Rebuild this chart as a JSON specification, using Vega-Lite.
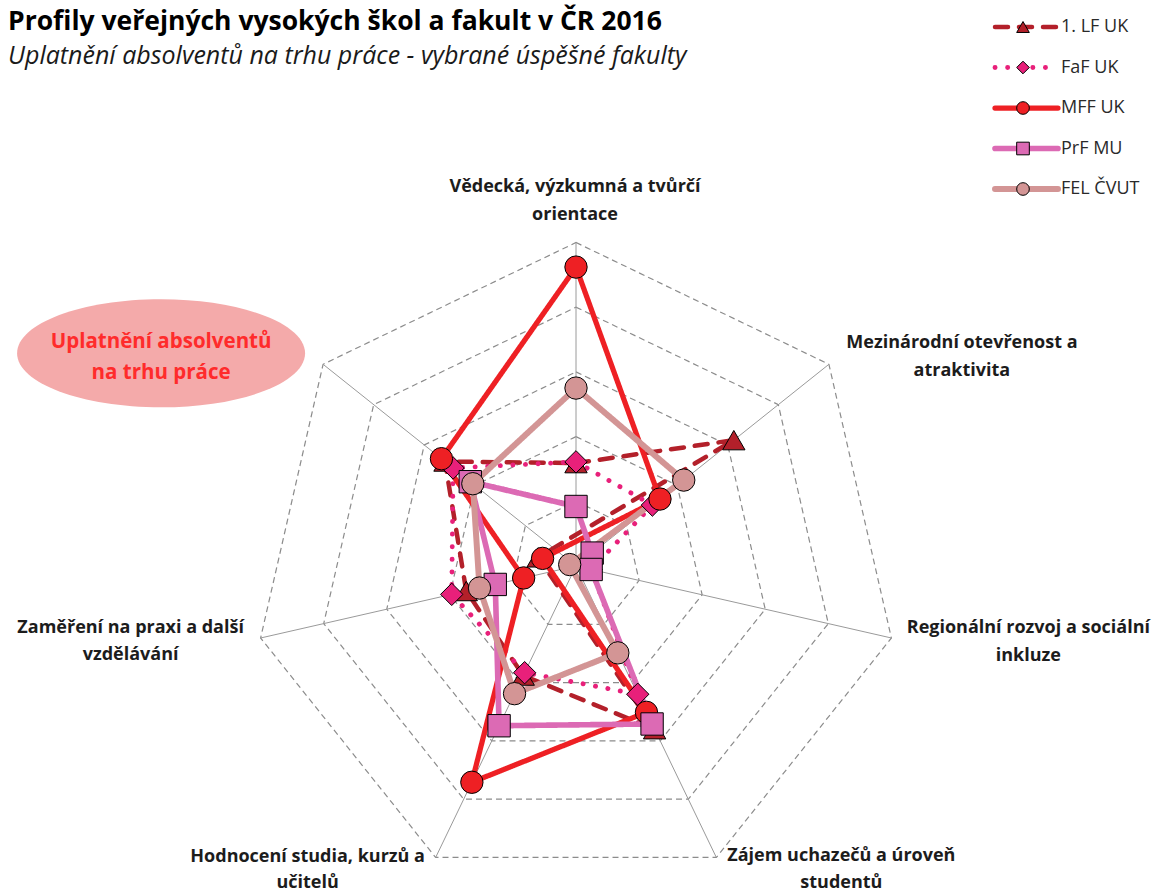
{
  "$schema": "https://vega.github.io/schema/vega-lite/v6.json",
  "width": 1161,
  "height": 818,
  "autosize": {"type": "none"},
  "padding": {"left": 0, "right": 0, "top": 75, "bottom": 0},
  "background": "white",
  "config": {"view": {"stroke": null}},
  "title": {
    "text": "Profily veřejných vysokých škol a fakult v ČR 2016",
    "subtitle": "Uplatnění absolventů na trhu práce - vybrané úspěšné fakulty",
    "anchor": "start", "frame": "group", "dx": 8, "offset": -52,
    "font": "Open Sans", "fontSize": 26.5, "fontWeight": "bold", "color": "#000000",
    "subtitleFont": "Open Sans", "subtitleFontSize": 25, "subtitleFontStyle": "italic",
    "subtitleColor": "#1a1a1a", "subtitlePadding": 9
  },
  "datasets": {
    "grid": [
      {"ring": 1, "k": [0, 1, 2, 3, 4, 5, 6]},
      {"ring": 2, "k": [0, 1, 2, 3, 4, 5, 6]},
      {"ring": 3, "k": [0, 1, 2, 3, 4, 5, 6]},
      {"ring": 4, "k": [0, 1, 2, 3, 4, 5, 6]},
      {"ring": 5, "k": [0, 1, 2, 3, 4, 5, 6]}
    ],
    "axes": [
      {"k": 0, "label": ["Vědecká, výzkumná a tvůrčí", "orientace"]},
      {"k": 1, "label": ["Mezinárodní otevřenost a", "atraktivita"]},
      {"k": 2, "label": ["Regionální rozvoj a sociální", "inkluze"]},
      {"k": 3, "label": ["Zájem uchazečů a úroveň", "studentů"]},
      {"k": 4, "label": ["Hodnocení studia, kurzů a", "učitelů"]},
      {"k": 5, "label": ["Zaměření na praxi a další", "vzdělávání"]},
      {"k": 6, "label": ["Uplatnění absolventů", "na trhu práce"]}
    ],
    "scores": [
      {"fakulta": "1. LF UK", "k": 0, "v": 1.59},
      {"fakulta": "1. LF UK", "k": 1, "v": 3.12},
      {"fakulta": "1. LF UK", "k": 2, "v": -0.6},
      {"fakulta": "1. LF UK", "k": 3, "v": 2.8},
      {"fakulta": "1. LF UK", "k": 4, "v": 1.88},
      {"fakulta": "1. LF UK", "k": 5, "v": 1.74},
      {"fakulta": "1. LF UK", "k": 6, "v": 2.59},
      {"fakulta": "FaF UK", "k": 0, "v": 1.61},
      {"fakulta": "FaF UK", "k": 1, "v": 1.51},
      {"fakulta": "FaF UK", "k": 2, "v": 0.24},
      {"fakulta": "FaF UK", "k": 3, "v": 2.2},
      {"fakulta": "FaF UK", "k": 4, "v": 1.83},
      {"fakulta": "FaF UK", "k": 5, "v": 1.97},
      {"fakulta": "FaF UK", "k": 6, "v": 2.43},
      {"fakulta": "MFF UK", "k": 0, "v": 4.62},
      {"fakulta": "MFF UK", "k": 1, "v": 1.66},
      {"fakulta": "MFF UK", "k": 2, "v": -0.53},
      {"fakulta": "MFF UK", "k": 3, "v": 2.51},
      {"fakulta": "MFF UK", "k": 4, "v": 3.71},
      {"fakulta": "MFF UK", "k": 5, "v": 0.83},
      {"fakulta": "MFF UK", "k": 6, "v": 2.66},
      {"fakulta": "PrF MU", "k": 0, "v": 0.92},
      {"fakulta": "PrF MU", "k": 1, "v": 0.32},
      {"fakulta": "PrF MU", "k": 2, "v": 0.24},
      {"fakulta": "PrF MU", "k": 3, "v": 2.71},
      {"fakulta": "PrF MU", "k": 4, "v": 2.74},
      {"fakulta": "PrF MU", "k": 5, "v": 1.28},
      {"fakulta": "PrF MU", "k": 6, "v": 2.09},
      {"fakulta": "FEL ČVUT", "k": 0, "v": 2.75},
      {"fakulta": "FEL ČVUT", "k": 1, "v": 2.13},
      {"fakulta": "FEL ČVUT", "k": 2, "v": -0.1},
      {"fakulta": "FEL ČVUT", "k": 3, "v": 1.49},
      {"fakulta": "FEL ČVUT", "k": 4, "v": 2.19},
      {"fakulta": "FEL ČVUT", "k": 5, "v": 1.53},
      {"fakulta": "FEL ČVUT", "k": 6, "v": 2.04}
    ]
  },
  "encoding": {
    "x": {"field": "px", "type": "quantitative", "axis": null,
          "scale": {"domain": [-8.903, 9.042], "nice": false, "zero": false}},
    "y": {"field": "py", "type": "quantitative", "axis": null,
          "scale": {"domain": [-5.054, 7.589], "nice": false, "zero": false}}
  },
  "layer": [
    {
      "data": {"name": "grid"},
      "transform": [
        {"flatten": ["k"]},
        {"calculate": "datum.ring*sin(datum.k*2*PI/7)", "as": "px"},
        {"calculate": "datum.ring*cos(datum.k*2*PI/7)", "as": "py"}
      ],
      "mark": {"type": "line", "interpolate": "linear-closed", "stroke": "#8c8c8c", "strokeWidth": 1.2, "strokeDash": [6, 4]},
      "encoding": {"detail": {"field": "ring", "type": "nominal"}, "order": {"field": "k", "type": "quantitative"}}
    },
    {
      "data": {"name": "axes"},
      "transform": [
        {"calculate": "5*sin(datum.k*2*PI/7)", "as": "px"},
        {"calculate": "5*cos(datum.k*2*PI/7)", "as": "py"}
      ],
      "mark": {"type": "rule", "stroke": "#9a9a9a", "strokeWidth": 1},
      "encoding": {"x2": {"datum": 0}, "y2": {"datum": 0}}
    },
    {
      "data": {"name": "scores"},
      "transform": [
        {"calculate": "datum.v*sin(datum.k*2*PI/7)", "as": "px"},
        {"calculate": "datum.v*cos(datum.k*2*PI/7)", "as": "py"}
      ],
      "mark": {"type": "line", "interpolate": "linear-closed", "strokeCap": "round", "strokeJoin": "round"},
      "encoding": {
        "order": {"field": "k", "type": "quantitative"},
        "color": {
          "field": "fakulta", "type": "nominal",
          "scale": {"domain": ["1. LF UK", "FaF UK", "MFF UK", "PrF MU", "FEL ČVUT"],
                    "range": ["#B3202A", "#E8207A", "#EE2024", "#DC6AB4", "#D39595"]},
          "legend": {
            "orient": "none", "legendX": 992, "legendY": -58, "title": null,
            "symbolType": "stroke", "symbolSize": 3969, "clipHeight": 20, "rowPadding": 20.5,
            "labelFont": "Open Sans", "labelFontSize": 18, "labelColor": "#2a2a2a", "labelOffset": 0, "padding": 0,
            "encode": {"symbols": {"update": {"strokeCap": {"value": "round"}}}}
          }
        },
        "strokeDash": {
          "field": "fakulta", "type": "nominal",
          "scale": {"domain": ["1. LF UK", "FaF UK", "MFF UK", "PrF MU", "FEL ČVUT"],
                    "range": [[13, 11], [0.1, 12.5], [1, 0], [1, 0], [1, 0]]}
        },
        "strokeWidth": {
          "field": "fakulta", "type": "nominal",
          "scale": {"domain": ["1. LF UK", "FaF UK", "MFF UK", "PrF MU", "FEL ČVUT"],
                    "range": [4.5, 6, 7, 4.5, 5.5]}
        }
      }
    },
    {
      "data": {"name": "scores"},
      "transform": [
        {"calculate": "datum.v*sin(datum.k*2*PI/7)", "as": "px"},
        {"calculate": "datum.v*cos(datum.k*2*PI/7)", "as": "py"},
        {"calculate": "datum.fakulta + ' '", "as": "fak"}
      ],
      "mark": {"type": "point", "filled": true, "size": 500, "stroke": "#000000", "strokeWidth": 1, "opacity": 1},
      "encoding": {
        "fill": {
          "field": "fak", "type": "nominal",
          "scale": {"domain": ["1. LF UK ", "FaF UK ", "MFF UK ", "PrF MU ", "FEL ČVUT "],
                    "range": ["#B3202A", "#E8207A", "#EE2024", "#DC6AB4", "#D39595"]},
          "legend": {
            "orient": "none", "legendX": 1016, "legendY": -58, "title": null,
            "symbolSize": 160, "clipHeight": 20, "rowPadding": 20.5, "labelExpr": "''", "padding": 0,
            "symbolStrokeColor": "#000000", "symbolStrokeWidth": 1, "symbolOpacity": 1
          }
        },
        "shape": {
          "field": "fak", "type": "nominal",
          "scale": {"domain": ["1. LF UK ", "FaF UK ", "MFF UK ", "PrF MU ", "FEL ČVUT "],
                    "range": ["triangle-up", "diamond", "circle", "square", "circle"]}
        }
      }
    },
    {
      "data": {"name": "axes"},
      "transform": [
        {"filter": "datum.k == 6"},
        {"calculate": "5*sin(datum.k*2*PI/7)", "as": "px"},
        {"calculate": "5*cos(datum.k*2*PI/7)", "as": "py"}
      ],
      "mark": {"type": "point", "filled": true, "fill": "#F4AAAA", "opacity": 1, "strokeWidth": 0, "size": 82944,
               "xOffset": -162, "yOffset": -11,
               "shape": "M-1,0C-1,-0.2071,-0.5523,-0.375,0,-0.375C0.5523,-0.375,1,-0.2071,1,0C1,0.2071,0.5523,0.375,0,0.375C-0.5523,0.375,-1,0.2071,-1,0Z"}
    },
    {
      "data": {"name": "axes"},
      "transform": [
        {"filter": "datum.k == 6"},
        {"calculate": "5*sin(datum.k*2*PI/7)", "as": "px"},
        {"calculate": "5*cos(datum.k*2*PI/7)", "as": "py"}
      ],
      "mark": {"type": "text", "font": "Open Sans", "fontSize": 20.5, "fontWeight": "bold", "color": "#FF2B2B",
               "align": "center", "baseline": "middle", "lineHeight": 31, "dx": -162, "dy": -22.5},
      "encoding": {"text": {"field": "label", "type": "nominal"}}
    },
    {
      "data": {"name": "axes"},
      "transform": [
        {"filter": "datum.k == 0"},
        {"calculate": "5*sin(datum.k*2*PI/7)", "as": "px"},
        {"calculate": "5*cos(datum.k*2*PI/7)", "as": "py"}
      ],
      "mark": {"type": "text", "font": "Open Sans", "fontSize": 18, "fontWeight": "bold", "color": "#1c1c1c",
               "align": "center", "baseline": "middle", "lineHeight": 28, "dx": -1, "dy": -55.5},
      "encoding": {"text": {"field": "label", "type": "nominal"}}
    },
    {
      "data": {"name": "axes"},
      "transform": [
        {"filter": "datum.k == 1"},
        {"calculate": "5*sin(datum.k*2*PI/7)", "as": "px"},
        {"calculate": "5*cos(datum.k*2*PI/7)", "as": "py"}
      ],
      "mark": {"type": "text", "font": "Open Sans", "fontSize": 18, "fontWeight": "bold", "color": "#1c1c1c",
               "align": "center", "baseline": "middle", "lineHeight": 28, "dx": 133, "dy": -21.3},
      "encoding": {"text": {"field": "label", "type": "nominal"}}
    },
    {
      "data": {"name": "axes"},
      "transform": [
        {"filter": "datum.k == 2"},
        {"calculate": "5*sin(datum.k*2*PI/7)", "as": "px"},
        {"calculate": "5*cos(datum.k*2*PI/7)", "as": "py"}
      ],
      "mark": {"type": "text", "font": "Open Sans", "fontSize": 18, "fontWeight": "bold", "color": "#1c1c1c",
               "align": "center", "baseline": "middle", "lineHeight": 28, "dx": 137, "dy": -10},
      "encoding": {"text": {"field": "label", "type": "nominal"}}
    },
    {
      "data": {"name": "axes"},
      "transform": [
        {"filter": "datum.k == 3"},
        {"calculate": "5*sin(datum.k*2*PI/7)", "as": "px"},
        {"calculate": "5*cos(datum.k*2*PI/7)", "as": "py"}
      ],
      "mark": {"type": "text", "font": "Open Sans", "fontSize": 18, "fontWeight": "bold", "color": "#1c1c1c",
               "align": "center", "baseline": "middle", "lineHeight": 27, "dx": 125, "dy": -1.5},
      "encoding": {"text": {"field": "label", "type": "nominal"}}
    },
    {
      "data": {"name": "axes"},
      "transform": [
        {"filter": "datum.k == 4"},
        {"calculate": "5*sin(datum.k*2*PI/7)", "as": "px"},
        {"calculate": "5*cos(datum.k*2*PI/7)", "as": "py"}
      ],
      "mark": {"type": "text", "font": "Open Sans", "fontSize": 18, "fontWeight": "bold", "color": "#1c1c1c",
               "align": "center", "baseline": "middle", "lineHeight": 26, "dx": -128, "dy": -0.5},
      "encoding": {"text": {"field": "label", "type": "nominal"}}
    },
    {
      "data": {"name": "axes"},
      "transform": [
        {"filter": "datum.k == 5"},
        {"calculate": "5*sin(datum.k*2*PI/7)", "as": "px"},
        {"calculate": "5*cos(datum.k*2*PI/7)", "as": "py"}
      ],
      "mark": {"type": "text", "font": "Open Sans", "fontSize": 18, "fontWeight": "bold", "color": "#1c1c1c",
               "align": "center", "baseline": "middle", "lineHeight": 27, "dx": -130, "dy": -10},
      "encoding": {"text": {"field": "label", "type": "nominal"}}
    }
  ]
}
